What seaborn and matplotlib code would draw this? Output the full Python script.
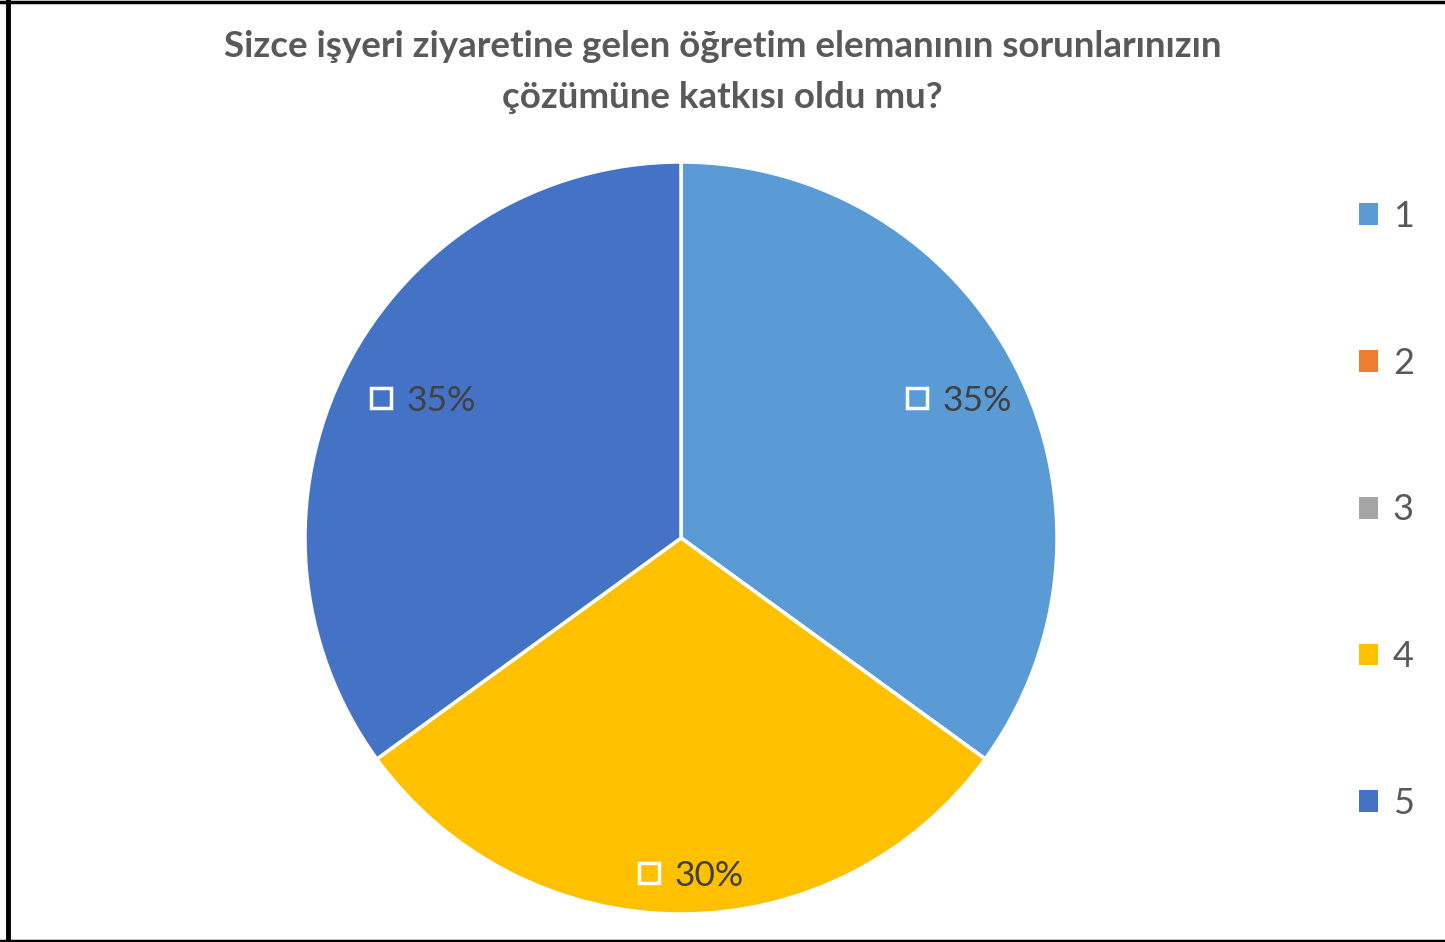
import numpy as np
import matplotlib
matplotlib.use('Agg')
import matplotlib.pyplot as plt
import seaborn as sns
from matplotlib.lines import Line2D
from matplotlib.patches import Patch

categories = ['1', '2', '3', '4', '5']
shares = [35, 0, 0, 30, 35]
colors = ['#5B9BD5', '#ED7D31', '#A5A5A5', '#FFC000', '#4472C4']
title = 'Sizce işyeri ziyaretine gelen öğretim elemanının sorunlarınızın\nçözümüne katkısı oldu mu?'

sns.set_theme(style='white')
plt.rcParams['font.family'] = ['Lato', 'DejaVu Sans']

fig = plt.figure(figsize=(14.45, 9.42), dpi=100)
ax = fig.add_axes([305 / 1445, 1 - 914 / 942, 752 / 1445, 752 / 942])

wedges, _ = ax.pie(shares, colors=colors, startangle=90, counterclock=False,
                   wedgeprops=dict(edgecolor='white', linewidth=2.5))
ax.set_xlim(-1, 1)
ax.set_ylim(-1, 1)
ax.set_aspect('equal')

# data labels, Excel "best fit" style
for w, v in zip(wedges, shares):
    if v == 0:
        continue
    ang = np.deg2rad((w.theta1 + w.theta2) / 2)
    r = 0.9 if v < 33 else 0.8
    x, y = r * np.cos(ang), r * np.sin(ang)
    ax.plot(x - 0.085, y + 0.01, marker='s', markersize=14, markerfacecolor=w.get_facecolor(),
            markeredgecolor='white', markeredgewidth=2.5, linestyle='none')
    ax.text(x + 0.075, y, f'{v}%', ha='center', va='center', fontsize=25.5, color='#404040')

fig.suptitle(title, y=0.968, fontsize=26.5, fontweight='bold', color='#595959', linespacing=1.65)

handles = [Patch(facecolor=c, edgecolor='none') for c in colors]
fig.legend(handles, categories, loc='center left', bbox_to_anchor=(1326 / 1445, 1 - 510 / 942),
           frameon=False, fontsize=26, labelcolor='#595959', handlelength=0.55, handleheight=0.55,
           handletextpad=0.4, labelspacing=3.15)

# chart border (left, top, bottom)
fig.add_artist(Line2D([8 / 1445, 8 / 1445], [0, 1], color='black', linewidth=3.5, transform=fig.transFigure))
fig.add_artist(Line2D([0, 1], [1 - 1.5 / 942, 1 - 1.5 / 942], color='black', linewidth=2.5, transform=fig.transFigure))
fig.add_artist(Line2D([0, 1], [1.5 / 942, 1.5 / 942], color='black', linewidth=2.5, transform=fig.transFigure))

fig.savefig('out.png', dpi=100)
